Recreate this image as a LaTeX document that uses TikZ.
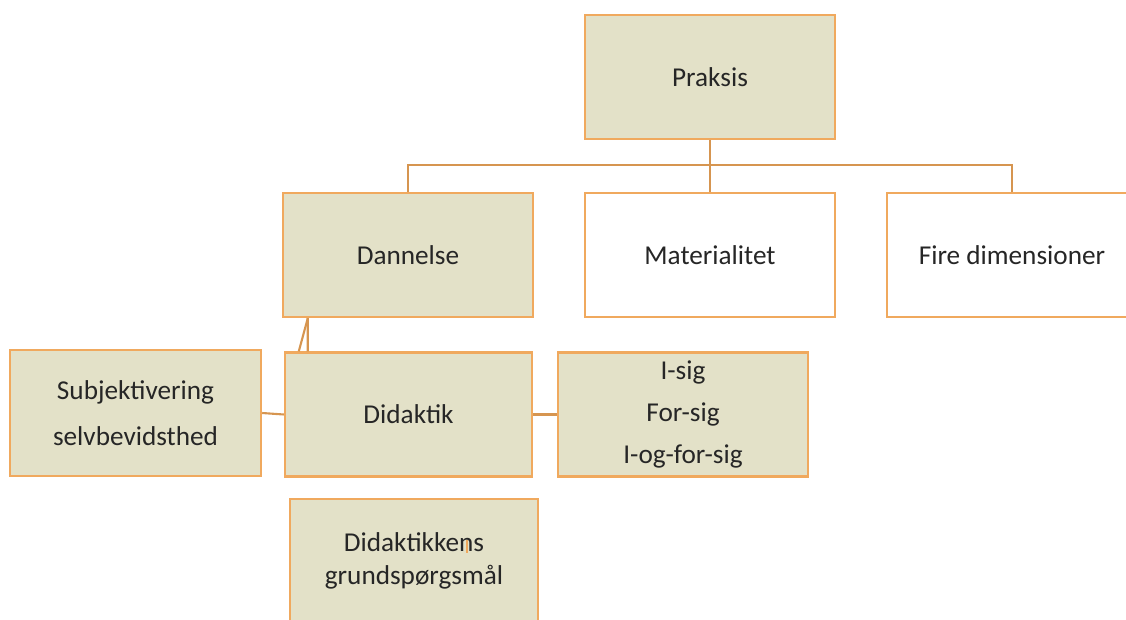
\documentclass[tikz,border=0pt]{standalone}
\usepackage{fontspec}
\setmainfont{Carlito}
\definecolor{boxfill}{HTML}{E3E1C8}
\definecolor{boxline}{HTML}{F0A95E}
\definecolor{linkline}{HTML}{D69550}
\definecolor{txt}{HTML}{262626}

\begin{document}
\begin{tikzpicture}[x=0.02cm, y=-0.02cm,
  every node/.style={rectangle, draw=boxline, line width=1.4pt,
    minimum width=5cm, minimum height=2.48cm, inner sep=0pt,
    align=center, text=txt, font=\fontsize{15.5}{19}\selectfont},
  tan/.style={fill=boxfill}, plain/.style={fill=white},
  link/.style={draw=linkline, line width=1.2pt}]
  \useasboundingbox (0,0) rectangle (1126,619);
  \clip (0,0) rectangle (1126,619);
  % top level
  \node[tan] (praksis) at (710,77) {Praksis};
  % second row
  \node[tan]   (dannelse)     at (408,255)  {Dannelse};
  \node[plain] (materialitet) at (710,255)  {Materialitet};
  \node[plain] (fire)         at (1012,255) {Fire dimensioner};
  % third row
  \node[tan, minimum width=5.02cm, minimum height=2.52cm,
    font=\fontsize{15.5}{26}\selectfont] (subj) at (135.5,413)
    {Subjektivering\\selvbevidsthed};
  \node[tan, minimum width=4.94cm] (didaktik) at (408.5,414.5) {Didaktik};
  \node[tan, font=\fontsize{15.5}{24}\selectfont] (sig) at (683,414.5)
    {I-sig\\For-sig\\I-og-for-sig};
  % bottom
  \node[tan, minimum width=4.96cm] (grund) at (414,561)
    {Didaktikkens\\grundspørgsmål};
  % connectors
  \coordinate (bus) at (710,165);
  \draw[link] (praksis.south) -- (materialitet.north);
  \draw[link] (dannelse.north) |- (bus) -| (fire.north);
  \draw[link] ([xshift=0.52cm]dannelse.south west) -- ([xshift=0.3cm]didaktik.north west);
  \draw[link] ([xshift=0.52cm]dannelse.south west) -- ([xshift=0.48cm]didaktik.north west);
  \draw[link] (subj.east) -- (didaktik.west);
  \draw[link] (didaktik.east) -- (sig.west);
  % cursor mark
  \draw[boxline, line width=1pt] (467,540) -- (467,553);
\end{tikzpicture}
\end{document}
